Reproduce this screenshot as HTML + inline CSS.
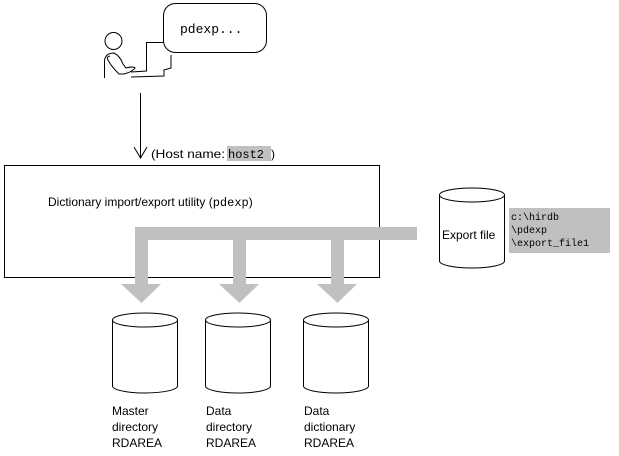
<!DOCTYPE html>
<html><head><style>html,body{margin:0;padding:0;background:#fff;}svg{display:block;}</style></head>
<body>
<svg width="619" height="456" viewBox="0 0 619 456" xmlns="http://www.w3.org/2000/svg" font-family="Liberation Sans, sans-serif">
<rect width="619" height="456" fill="#fff"/>
<g fill="none" stroke="#000" stroke-width="1">
<circle cx="113.5" cy="41" r="8.5"/>
<path d="M104.5 78 V60 Q106 53 114 53 Q120 56 123 64 L126 68 Q134 66 135 68 Q132 72 124 74 L119 74 Q111 66 108 60 Q106 57 110 56"/>
<path d="M131 72 L146.5 71 V42.5 H164"/>
<path d="M131 77 L164 76 L164 70 L171 68 V55"/>
<rect x="163.5" y="3.5" width="103" height="49" rx="12"/>
</g>
<text x="180" y="33" font-family="Liberation Mono, monospace" font-size="13">pdexp...</text>
<g stroke="#000" fill="none"><line x1="140.5" y1="93" x2="140.5" y2="158"/><path d="M134 147 L140.5 158 L147 147"/></g>
<text x="151" y="158" font-size="12" textLength="74" lengthAdjust="spacingAndGlyphs">(Host name:</text>
<rect x="227" y="146" width="44" height="15" fill="#c0c0c0"/>
<text x="228" y="158" font-family="Liberation Mono, monospace" font-size="12">host2</text>
<text x="271" y="158" font-size="12">)</text>
<rect x="4.5" y="165.5" width="375" height="112" fill="none" stroke="#000"/>
<text x="48" y="206" font-size="12">Dictionary import/export utility (<tspan font-family="Liberation Mono, monospace">pdexp</tspan>)</text>
<g fill="#c0c0c0">
<rect x="135" y="227" width="282" height="13"/>
<rect x="135" y="227" width="13" height="57"/>
<rect x="233" y="227" width="13" height="57"/>
<rect x="331" y="227" width="13" height="57"/>
<polygon points="121,284 161,284 141.5,303"/>
<polygon points="219,284 259,284 239.5,303"/>
<polygon points="317,284 357,284 337.5,303"/>
</g>
<g fill="#fff" stroke="#000">
<path d="M439.5 195 V261 A32.5 7 0 0 0 504.5 261 V195"/>
<ellipse cx="472" cy="195" rx="32.5" ry="7"/>
</g>
<text x="442" y="239" font-size="12">Export file</text>
<rect x="509" y="208" width="101" height="45" fill="#c0c0c0"/>
<g font-family="Liberation Mono, monospace" font-size="10"><text x="511" y="220">c:\hirdb</text><text x="511" y="233">\pdexp</text><text x="511" y="246">\export_file1</text></g>
<g fill="#fff" stroke="#000">
<path d="M112.5 320 V386 A32.5 7 0 0 0 177.5 386 V320"/><ellipse cx="145" cy="320" rx="32.5" ry="7"/>
<path d="M205.5 320 V386 A32.5 7 0 0 0 270.5 386 V320"/><ellipse cx="238" cy="320" rx="32.5" ry="7"/>
<path d="M303.5 320 V386 A32.5 7 0 0 0 368.5 386 V320"/><ellipse cx="336" cy="320" rx="32.5" ry="7"/>
</g>
<g font-size="12">
<text x="112" y="415">Master</text><text x="112" y="431">directory</text><text x="112" y="447">RDAREA</text>
<text x="206" y="415">Data</text><text x="206" y="431">directory</text><text x="206" y="447">RDAREA</text>
<text x="304" y="415">Data</text><text x="304" y="431">dictionary</text><text x="304" y="447">RDAREA</text>
</g>
</svg>
</body></html>
